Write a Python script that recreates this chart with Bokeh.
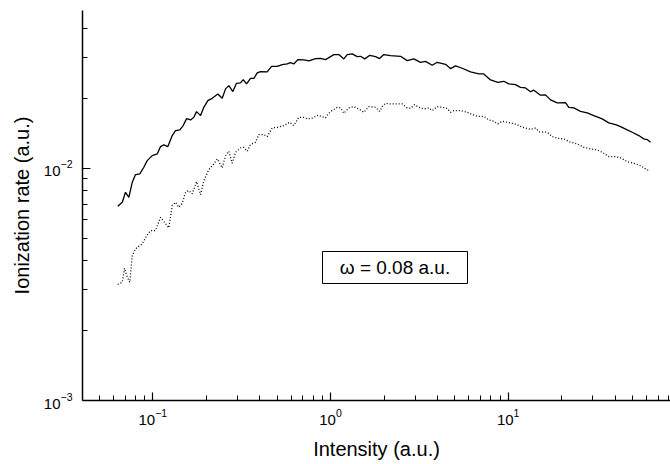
from bokeh.plotting import figure
from bokeh.models import FixedTicker, Range1d, Label, BoxAnnotation
from bokeh.embed import file_html
from bokeh.resources import INLINE

# solid curve
solid_x = [0.0635, 0.0673, 0.0702, 0.0733, 0.0766, 0.0799, 0.0845, 0.0890, 0.0930, 0.0992,
           0.1059, 0.1105, 0.1153, 0.1215, 0.1286, 0.1342, 0.1419, 0.1483, 0.1548, 0.1631,
           0.1701, 0.1762, 0.1856, 0.1936, 0.2040, 0.2159, 0.2322, 0.2458, 0.2566, 0.2678,
           0.2820, 0.2958, 0.3114, 0.3226, 0.3368, 0.3547, 0.3703, 0.3869, 0.4037, 0.4403,
           0.4656, 0.5012, 0.5347, 0.5706, 0.5956, 0.6216, 0.6546, 0.7076, 0.7550, 0.8233,
           0.8786, 0.9373, 1.044, 1.114, 1.188, 1.242, 1.325, 1.413, 1.475, 1.560,
           1.664, 1.792, 1.887, 1.995, 2.176, 2.477, 2.701, 2.943, 3.211, 3.424,
           3.735, 3.985, 4.437, 4.735, 5.050, 5.509, 6.136, 6.834, 7.289, 7.950,
           8.740, 9.446, 10.08, 10.99, 11.73, 12.51, 13.35, 13.94, 15.20, 16.22,
           17.30, 18.87, 21.01, 21.93, 23.39, 25.52, 27.84, 30.32, 33.81, 36.82,
           40.17, 42.85, 46.74, 49.87, 54.33, 57.96, 60.56, 63.22]
solid_y = [6.86e-3, 7.14e-3, 7.88e-3, 7.50e-3, 8.70e-3, 9.40e-3, 9.46e-3, 1.010e-2, 1.079e-2, 1.134e-2,
           1.153e-2, 1.240e-2, 1.261e-2, 1.240e-2, 1.383e-2, 1.453e-2, 1.463e-2, 1.527e-2, 1.636e-2, 1.615e-2,
           1.658e-2, 1.754e-2, 1.686e-2, 1.830e-2, 1.956e-2, 2.001e-2, 2.090e-2, 2.001e-2, 2.197e-2, 2.270e-2,
           2.139e-2, 2.322e-2, 2.332e-2, 2.409e-2, 2.308e-2, 2.440e-2, 2.440e-2, 2.575e-2, 2.608e-2, 2.600e-2,
           2.748e-2, 2.748e-2, 2.795e-2, 2.814e-2, 2.851e-2, 2.814e-2, 2.937e-2, 2.928e-2, 2.900e-2, 2.967e-2,
           2.976e-2, 2.937e-2, 3.087e-2, 3.087e-2, 2.958e-2, 3.087e-2, 3.109e-2, 3.026e-2, 3.035e-2, 2.958e-2,
           3.065e-2, 3.026e-2, 2.967e-2, 3.087e-2, 3.056e-2, 3.035e-2, 2.908e-2, 2.958e-2, 2.860e-2, 2.888e-2,
           2.776e-2, 2.860e-2, 2.803e-2, 2.687e-2, 2.759e-2, 2.696e-2, 2.600e-2, 2.549e-2, 2.549e-2, 2.402e-2,
           2.346e-2, 2.369e-2, 2.308e-2, 2.292e-2, 2.232e-2, 2.218e-2, 2.135e-2, 2.169e-2, 2.064e-2, 2.070e-2,
           1.970e-2, 1.912e-2, 1.918e-2, 1.830e-2, 1.820e-2, 1.759e-2, 1.731e-2, 1.686e-2, 1.632e-2, 1.568e-2,
           1.542e-2, 1.512e-2, 1.463e-2, 1.429e-2, 1.383e-2, 1.338e-2, 1.329e-2, 1.294e-2]

# dotted curve
dotted_x = [0.0635, 0.0673, 0.0693, 0.0718, 0.0742, 0.0766, 0.0799, 0.0872, 0.0930, 0.0971,
            0.1035, 0.1105, 0.1153, 0.1230, 0.1286, 0.1342, 0.1400, 0.1464, 0.1528, 0.1594,
            0.1666, 0.1762, 0.1856, 0.1936, 0.2066, 0.2205, 0.2304, 0.2458, 0.2566, 0.2678,
            0.2797, 0.2921, 0.3114, 0.3251, 0.3398, 0.3547, 0.3784, 0.3950, 0.4213, 0.4403,
            0.4698, 0.5012, 0.5459, 0.5879, 0.6216, 0.6631, 0.7076, 0.7395, 0.7889, 0.8506,
            0.9373, 0.978, 1.022, 1.091, 1.138, 1.188, 1.268, 1.352, 1.443, 1.539,
            1.642, 1.792, 1.887, 1.954, 2.040, 2.176, 2.373, 2.532, 2.701, 2.819,
            2.970, 3.140, 3.350, 3.574, 3.735, 3.985, 4.252, 4.536, 4.735, 4.941,
            5.389, 5.880, 6.273, 6.691, 7.289, 7.779, 8.299, 8.740, 9.253, 9.87,
            10.53, 11.23, 11.99, 12.79, 13.35, 14.24, 15.00, 16.58, 17.69, 18.87,
            20.55, 22.42, 24.45, 26.64, 29.05, 31.68, 33.81, 36.82, 40.17, 42.85,
            46.74, 50.92, 55.53, 59.26, 61.84]
dotted_y = [3.16e-3, 3.23e-3, 3.71e-3, 3.40e-3, 3.23e-3, 4.21e-3, 4.50e-3, 4.73e-3, 5.17e-3, 5.39e-3,
            5.39e-3, 6.15e-3, 5.90e-3, 5.54e-3, 6.91e-3, 7.14e-3, 6.79e-3, 7.07e-3, 7.88e-3, 8.02e-3,
            7.76e-3, 8.76e-3, 7.70e-3, 8.85e-3, 9.87e-3, 1.044e-2, 1.098e-2, 1.004e-2, 1.134e-2, 1.184e-2,
            1.051e-2, 1.172e-2, 1.224e-2, 1.231e-2, 1.184e-2, 1.265e-2, 1.294e-2, 1.397e-2, 1.397e-2, 1.369e-2,
            1.492e-2, 1.501e-2, 1.527e-2, 1.578e-2, 1.527e-2, 1.658e-2, 1.658e-2, 1.632e-2, 1.645e-2, 1.693e-2,
            1.648e-2, 1.725e-2, 1.772e-2, 1.830e-2, 1.820e-2, 1.725e-2, 1.820e-2, 1.843e-2, 1.801e-2, 1.742e-2,
            1.843e-2, 1.830e-2, 1.759e-2, 1.843e-2, 1.905e-2, 1.893e-2, 1.893e-2, 1.893e-2, 1.820e-2, 1.812e-2,
            1.880e-2, 1.830e-2, 1.801e-2, 1.821e-2, 1.772e-2, 1.843e-2, 1.830e-2, 1.812e-2, 1.742e-2, 1.772e-2,
            1.772e-2, 1.742e-2, 1.703e-2, 1.674e-2, 1.674e-2, 1.615e-2, 1.593e-2, 1.553e-2, 1.593e-2, 1.578e-2,
            1.562e-2, 1.542e-2, 1.501e-2, 1.486e-2, 1.471e-2, 1.489e-2, 1.435e-2, 1.429e-2, 1.369e-2, 1.346e-2,
            1.338e-2, 1.294e-2, 1.274e-2, 1.231e-2, 1.212e-2, 1.200e-2, 1.172e-2, 1.123e-2, 1.123e-2, 1.109e-2,
            1.069e-2, 1.051e-2, 1.027e-2, 9.94e-3, 9.77e-3]

x_major = [0.1, 1, 10]
x_minor = [0.05, 0.06, 0.07, 0.08, 0.09, 0.2, 0.3, 0.4, 0.5, 0.6, 0.7, 0.8, 0.9,
           2, 3, 4, 5, 6, 7, 8, 9, 20, 30, 40, 50, 60, 70, 80]
y_major = [0.001, 0.01]
y_minor = [0.002, 0.003, 0.004, 0.005, 0.006, 0.007, 0.008, 0.009, 0.02, 0.03, 0.04]

annotation_text = "\u03c9 = 0.08 a.u."

FONT = "Liberation Sans"

p = figure(width=670, height=464, x_axis_type="log", y_axis_type="log",
           x_range=Range1d(0.0402, 81.9), y_range=Range1d(0.001, 0.0478),
           output_backend="svg", toolbar_location=None,
           min_border_left=82, min_border_right=0, min_border_top=10, min_border_bottom=64,
           x_axis_label="Intensity (a.u.)", y_axis_label="Ionization rate (a.u.)")
p.outline_line_color = None
p.xgrid.visible = False
p.ygrid.visible = False
p.background_fill_color = "white"
p.border_fill_color = "white"

p.xaxis.ticker = FixedTicker(ticks=x_major, minor_ticks=x_minor)
p.yaxis.ticker = FixedTicker(ticks=y_major, minor_ticks=y_minor)

for ax in (p.xaxis, p.yaxis):
    ax.axis_line_width = 1.5
    ax.axis_line_color = "black"
    ax.major_tick_in = 8
    ax.major_tick_out = 0
    ax.minor_tick_in = 5
    ax.minor_tick_out = 0
    ax.major_tick_line_color = "black"
    ax.minor_tick_line_color = "black"
    ax.major_tick_line_width = 1.2
    ax.minor_tick_line_width = 1
    ax.major_label_text_font = FONT
    ax.major_label_text_font_size = "15px"
    ax.major_label_text_color = "black"
    ax.axis_label_text_font = FONT
    ax.axis_label_text_font_size = "20px"
    ax.axis_label_text_font_style = "normal"
    ax.axis_label_text_color = "black"

p.xaxis.major_label_standoff = 8
p.xaxis.axis_label_standoff = 10
p.yaxis.major_label_standoff = 10
p.yaxis.axis_label_standoff = 8

p.line(solid_x, solid_y, line_color="black", line_width=1.3)
p.line(dotted_x, dotted_y, line_color="black", line_width=1.3, line_dash="1 2")

box = BoxAnnotation(left=240, right=385, bottom=117, top=149,
                    left_units="screen", right_units="screen",
                    bottom_units="screen", top_units="screen",
                    fill_color="white", fill_alpha=1.0,
                    line_color="black", line_width=1, line_alpha=1.0)
p.add_layout(box)
lab = Label(x=312.5, y=133, x_units="screen", y_units="screen", text=annotation_text,
            text_align="center", text_baseline="middle", text_font=FONT,
            text_font_size="19px", text_color="black")
p.add_layout(lab)

open("out.html", "w").write(file_html(p, INLINE))
